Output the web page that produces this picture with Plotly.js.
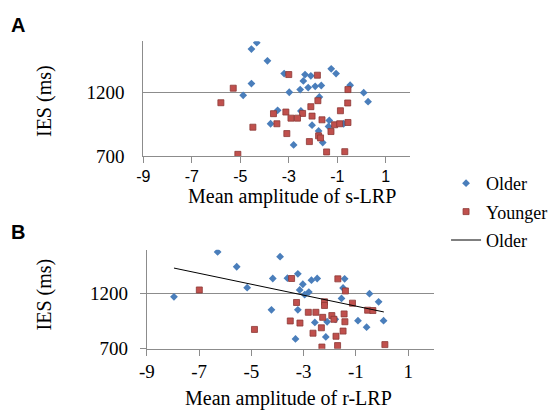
<!DOCTYPE html>
<html>
<head>
<meta charset="utf-8">
<script src="https://cdn.plot.ly/plotly-3.0.1.min.js"></script>
<style>html,body{margin:0;padding:0;background:#fff}#chart{width:550px;height:415px}</style>
</head>
<body>
<div id="chart"></div>
<script>
// Panel A: s-LRP
var aOlderX = [-4.32,-4.54,-3.88,-3.19,-2.33,-2.09,-1.25,-1.05,-2.40,-4.54,-0.47,-2.20,-1.91,-1.66,-2.53,-2.98,0.09,-4.88,-1.74,0.27,-3.46,-2.50,-3.75,-2.04,-1.33,-1.36,-0.74,-1.77,-1.60,-2.80];
var aOlderY = [1589,1539,1447,1347,1339,1329,1384,1347,1289,1268,1255,1237,1247,1253,1221,1200,1197,1176,1163,1126,1058,1053,953,942,979,932,953,897,805,787];
var aYoungerX = [-3.00,-1.82,-5.29,-0.56,-5.80,-1.80,-0.57,-2.09,-0.87,-3.12,-3.63,-2.43,-2.04,-2.91,-2.64,-1.63,-3.49,-1.11,-0.90,-0.56,-4.48,-3.08,-1.26,-1.77,-1.69,-2.15,-1.44,-0.69,-5.10];
var aYoungerY = [1339,1334,1232,1221,1118,1134,1116,1087,1055,1045,1032,1034,1013,997,997,984,953,945,953,963,926,876,892,858,842,813,732,734,713];

// Panel B: r-LRP
var bOlderX = [-6.29,-3.90,-5.56,-3.22,-4.18,-3.62,-2.48,-2.70,-1.43,-3.03,-5.16,-1.49,-3.15,-2.80,-2.96,-0.48,-7.96,-1.55,-0.13,-4.23,-3.22,-2.57,-2.10,-0.92,0.06,-0.59,-2.15,-3.31,-1.79];
var bOlderY = [1580,1537,1445,1381,1338,1341,1338,1323,1335,1286,1255,1252,1234,1215,1191,1200,1172,1157,1126,1053,1053,939,945,955,955,896,807,789,967];
var bYoungerX = [-3.46,-1.69,-6.99,-1.40,-3.27,-2.20,-2.20,-1.13,-0.55,-0.35,-2.82,-2.53,-1.45,-1.92,-2.27,-1.84,-3.51,-3.14,-1.42,-4.88,-2.32,-1.49,-2.64,-1.76,-2.30,-1.70,0.11];
var bYoungerY = [1338,1335,1234,1225,1120,1126,1093,1114,1050,1047,1031,1031,1016,1001,985,967,952,933,945,875,890,860,841,813,715,728,737];
var bTrendX = [-7.96, 0.07];
var bTrendY = [1433, 1034];

var xTicks = [-9,-7,-5,-3,-1,1];
var yTicks = [700,1200];
var yTickText = ['700','1200'];

var blue = '#4a7ebb', red = '#c0504d', redEdge = '#8c3836';
var gray = '#8c8c8c';
var serif = 'Liberation Serif, Times New Roman, serif';
var sans = 'Liberation Sans, Arial, sans-serif';

var traces = [
  {x: aOlderX, y: aOlderY, xaxis:'x', yaxis:'y', type:'scatter', mode:'markers', name:'Older', legendgroup:'o',
   marker:{symbol:'diamond', size:6, color:blue}},
  {x: aYoungerX, y: aYoungerY, xaxis:'x', yaxis:'y', type:'scatter', mode:'markers', name:'Younger', legendgroup:'y',
   marker:{symbol:'square', size:6, color:red, line:{color:redEdge, width:0.8}}},
  {x: bOlderX, y: bOlderY, xaxis:'x2', yaxis:'y2', type:'scatter', mode:'markers', name:'Older', showlegend:false, legendgroup:'o',
   marker:{symbol:'diamond', size:6, color:blue}},
  {x: bYoungerX, y: bYoungerY, xaxis:'x2', yaxis:'y2', type:'scatter', mode:'markers', name:'Younger', showlegend:false, legendgroup:'y',
   marker:{symbol:'square', size:6, color:red, line:{color:redEdge, width:0.8}}},
  {x: bTrendX, y: bTrendY, xaxis:'x2', yaxis:'y2', type:'scatter', mode:'lines', name:'Older', legendgroup:'t',
   line:{color:'#000', width:1}}
];

function xa(domain, anchor, font) {
  return {domain: domain, anchor: anchor, range:[-9,2], tickvals: xTicks, ticktext: xTicks.map(String),
    showline:true, linecolor:gray, linewidth:1, ticks:'outside', ticklen:6, tickcolor:gray,
    showgrid:false, zeroline:false, tickfont: font, fixedrange:true, automargin:false};
}
function ya(domain, anchor, ticks) {
  return {domain: domain, anchor: anchor, range:[700,1600], tickvals: yTicks, ticktext: yTickText,
    showline:true, linecolor:gray, linewidth:1, ticks: ticks, ticklen:6, tickcolor:gray,
    showgrid:true, gridcolor:gray, gridwidth:1, zeroline:false,
    tickfont:{family:serif, size:19, color:'#000'}, ticklabelstandoff: ticks ? 8 : 14, fixedrange:true, automargin:false};
}

var layout = {
  width:550, height:415, margin:{l:0,r:0,t:0,b:0,autoexpand:false}, paper_bgcolor:'#fff', plot_bgcolor:'#fff',
  showlegend:true,
  legend:{x:0.811, y:0.6024, xanchor:'left', yanchor:'top', font:{family:serif, size:18, color:'#000'},
    bgcolor:'rgba(0,0,0,0)', itemwidth:30, traceorder:'grouped', tracegroupgap:2},
  xaxis: xa([0.2605,0.7455], 'y', {family:sans, size:16, color:'#000'}),
  yaxis: ya([0.6241,0.9005], 'x', ''),
  xaxis2: xa([0.2669,0.7896], 'y2', {family:serif, size:19, color:'#000'}),
  yaxis2: ya([0.1598,0.3983], 'x2', 'outside'),
  annotations: [
    {text:'A', xref:'paper', yref:'paper', x:0.0336, y:0.939, xanchor:'center', yanchor:'middle', showarrow:false,
     font:{family:sans, size:20, color:'#000', weight:'bold'}},
    {text:'B', xref:'paper', yref:'paper', x:0.0333, y:0.4398, xanchor:'center', yanchor:'middle', showarrow:false,
     font:{family:sans, size:20, color:'#000', weight:'bold'}},
    {text:'IES (ms)', xref:'paper', yref:'paper', x:0.08, y:0.7566, xanchor:'center', yanchor:'middle', showarrow:false,
     textangle:-90, font:{family:serif, size:20, color:'#000'}},
    {text:'IES (ms)', xref:'paper', yref:'paper', x:0.0809, y:0.2916, xanchor:'center', yanchor:'middle', showarrow:false,
     textangle:-90, font:{family:serif, size:20, color:'#000'}},
    {text:'Mean amplitude of s-LRP', xref:'paper', yref:'paper', x:0.5303, y:0.5277, xanchor:'center', yanchor:'middle', showarrow:false,
     font:{family:serif, size:20, color:'#000'}},
    {text:'Mean amplitude of r-LRP', xref:'paper', yref:'paper', x:0.5249, y:0.0386, xanchor:'center', yanchor:'middle', showarrow:false,
     font:{family:serif, size:20, color:'#000'}}
  ]
};

Plotly.newPlot('chart', traces, layout, {displayModeBar:false, staticPlot:true});
</script>
</body>
</html>
